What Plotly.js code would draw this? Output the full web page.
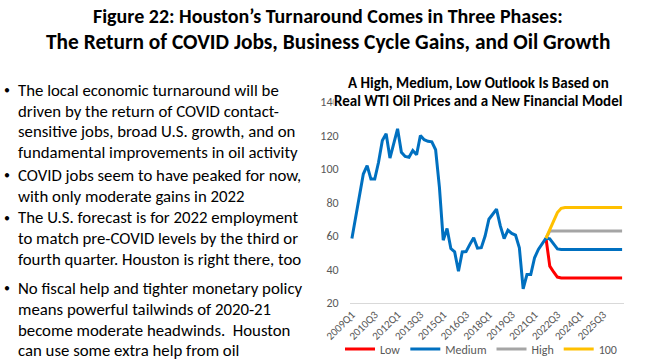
<!DOCTYPE html>
<html><head><meta charset="utf-8">
<script src="https://cdn.plot.ly/plotly-3.0.1.min.js"></script>
<style>html,body{margin:0;padding:0;background:#fff;}#chart{width:647px;height:361px;}</style>
</head><body><div id="chart"></div>
<script>
// ---- DATA ----
const quarters = [
 '2009Q1','2009Q2','2009Q3','2009Q4','2010Q1','2010Q2','2010Q3','2010Q4',
 '2011Q1','2011Q2','2011Q3','2011Q4','2012Q1','2012Q2','2012Q3','2012Q4',
 '2013Q1','2013Q2','2013Q3','2013Q4','2014Q1','2014Q2','2014Q3','2014Q4',
 '2015Q1','2015Q2','2015Q3','2015Q4','2016Q1','2016Q2','2016Q3','2016Q4',
 '2017Q1','2017Q2','2017Q3','2017Q4','2018Q1','2018Q2','2018Q3','2018Q4',
 '2019Q1','2019Q2','2019Q3','2019Q4','2020Q1','2020Q2','2020Q3','2020Q4',
 '2021Q1','2021Q2','2021Q3','2021Q4','2022Q1','2022Q2','2022Q3','2022Q4',
 '2023Q1','2023Q2','2023Q3','2023Q4','2024Q1','2024Q2','2024Q3','2024Q4',
 '2025Q1','2025Q2','2025Q3','2025Q4','2026Q1','2026Q2','2026Q3','2026Q4'];
const tickLabels = ['2009Q1','2010Q3','2012Q1','2013Q3','2015Q1','2016Q3','2018Q1','2019Q3','2021Q1','2022Q3','2024Q1','2025Q3'];
const medium = [58.5,71,84,97,102,94,94,104,117,121,106.5,116,124,110,107.5,107,111,108.5,120,117.5,116.5,116.2,111.5,89,
 57.5,64.5,52.5,50.5,39,50.5,50.7,55,59,52.7,53,60,70,73,76,66,58.5,63.5,61.5,60.5,53,28.5,37,37,47,52,55,58.7,
 58.3,55,52.3,52,52,52,52,52,52,52,52,52,52,52,52,52,52,52,52,52];
const low = [null,null,null,null,null,null,null,null,null,null,null,null,null,null,null,null,null,null,null,null,null,null,null,null,
 null,null,null,null,null,null,null,null,null,null,null,null,null,null,null,null,null,null,null,null,null,null,null,null,null,null,null,58.7,
 42,38.5,35.5,35,35,35,35,35,35,35,35,35,35,35,35,35,35,35,35,35];
const high = [null,null,null,null,null,null,null,null,null,null,null,null,null,null,null,null,null,null,null,null,null,null,null,null,
 null,null,null,null,null,null,null,null,null,null,null,null,null,null,null,null,null,null,null,null,null,null,null,null,null,null,null,58.7,
 63,63,63,63,63,63,63,63,63,63,63,63,63,63,63,63,63,63,63,63];
const hundred = [null,null,null,null,null,null,null,null,null,null,null,null,null,null,null,null,null,null,null,null,null,null,null,null,
 null,null,null,null,null,null,null,null,null,null,null,null,null,null,null,null,null,null,null,null,null,null,null,null,null,null,null,58.7,
 64,69,74,76.5,77,77,77,77,77,77,77,77,77,77,77,77,77,77,77,77];
const yTicks = [20,40,60,80,100,120,140];
const seriesNames = ['Low','Medium','High','100'];
const titleLines = ['Figure 22: Houston\u2019s Turnaround Comes in Three Phases:',
 'The Return of COVID Jobs, Business Cycle Gains, and Oil Growth'];
const chartTitleLines = ['A High, Medium, Low Outlook Is Based on','Real WTI Oil Prices and a New Financial Model'];
const bullets = [
 ['The local economic turnaround will be','driven by the return of COVID contact-','sensitive jobs, broad U.S. growth, and on','fundamental improvements in oil activity'],
 ['COVID jobs seem to have peaked for now,','with only moderate gains in 2022'],
 ['The U.S. forecast is for 2022 employment','to match pre-COVID levels by the third or','fourth quarter. Houston is right there, too'],
 ['No fiscal help and tighter monetary policy','means powerful tailwinds of 2020-21','become moderate headwinds.\u00a0 Houston','can use some extra help from oil']
];

// ---- LAYOUT ----
const W = 647, H = 361;
const M = {l: 350, r: 23, t: 102, b: 58, autoexpand: false};
const PW = W - M.l - M.r, PH = H - M.t - M.b;
const px = x => (x - M.l) / PW;
const py = y => 1 - (y - M.t) / PH;
const FONT = 'Carlito, Calibri, Lato, sans-serif';

const colors = ['#FF0000', '#0070C0', '#A5A5A5', '#FFC000'];
const ys = [low, medium, high, hundred];
const traces = ys.map((v, k) => ({
  type: 'scatter', mode: 'lines', x: quarters, y: v, name: seriesNames[k],
  line: {color: colors[k], width: 3}, connectgaps: false, hoverinfo: 'skip'
}));

const ann = [];
const titleY = [16, 42];
const titleSize = [20, 21.4];
titleLines.forEach((t, i) => ann.push({text: '<b>' + t + '</b>', xref: 'paper', yref: 'paper', x: px(328), y: py(titleY[i]),
  xanchor: 'center', yanchor: 'middle', showarrow: false, borderpad: 0, font: {family: FONT, size: titleSize[i], color: '#000'}}));
const ctY = [83, 101.5];
chartTitleLines.forEach((t, i) => ann.push({text: '<b>' + t + '</b>', xref: 'paper', yref: 'paper', x: px(478), y: py(ctY[i]),
  xanchor: 'center', yanchor: 'middle', showarrow: false, borderpad: 0, bgcolor: i === 1 ? '#ffffff' : 'rgba(0,0,0,0)',
  font: {family: FONT, size: 15, color: '#000'}}));
const lineY = [[90, 111, 131.5, 152], [175, 196], [217.5, 238.5, 259.5], [288, 309, 330, 350]];
bullets.forEach((b, bi) => {
  ann.push({text: '\u2022', xref: 'paper', yref: 'paper', x: px(7), y: py(lineY[bi][0]), xanchor: 'center', yanchor: 'middle',
    showarrow: false, borderpad: 0, font: {family: FONT, size: 12, color: '#000'}});
  b.forEach((t, li) => ann.push({text: t, xref: 'paper', yref: 'paper', x: px(17), y: py(lineY[bi][li]),
    xanchor: 'left', yanchor: 'middle', showarrow: false, borderpad: 0, font: {family: FONT, size: 16.8, color: '#000'}}));
});

const layout = {
  width: W, height: H, margin: M, paper_bgcolor: '#fff', plot_bgcolor: '#fff',
  showlegend: true,
  legend: {orientation: 'h', xref: 'paper', yref: 'paper', x: px(340), y: py(349), xanchor: 'left', yanchor: 'middle',
    bgcolor: 'rgba(0,0,0,0)', font: {family: FONT, size: 12, color: '#595959'}, itemwidth: 30, tracegroupgap: 0},
  xaxis: {type: 'category', range: [-0.5, quarters.length - 0.5], tickmode: 'array', tickvals: tickLabels, ticktext: tickLabels,
    tickangle: -45, tickfont: {family: FONT, size: 11, color: '#595959'}, showgrid: false, zeroline: false,
    showline: true, linecolor: '#D9D9D9', linewidth: 1, ticks: '', automargin: false},
  yaxis: {range: [20, 140], tickmode: 'array', tickvals: yTicks, showgrid: false, zeroline: false, showline: false, automargin: false,
    ticks: 'outside', ticklen: 8, tickcolor: 'rgba(0,0,0,0)', tickfont: {family: FONT, size: 12, color: '#595959'}},
  annotations: ann
};
Plotly.newPlot('chart', traces, layout, {displayModeBar: false, staticPlot: true});
</script></body></html>
